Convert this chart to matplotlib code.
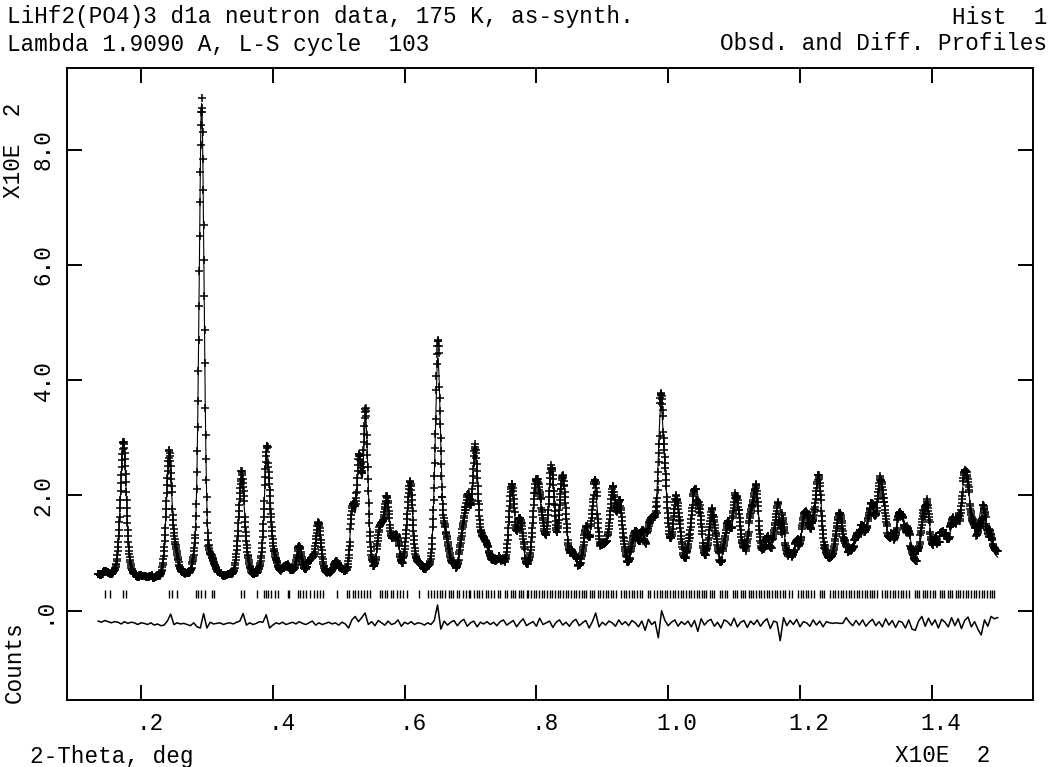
import numpy as np
import matplotlib
matplotlib.use("Agg")
import matplotlib.pyplot as plt
from matplotlib.transforms import blended_transform_factory, offset_copy

# --- peak list (2-theta deg, height above bkg x10E2, fwhm deg)
peak_pos = [14.6, 17.3, 17.8, 24.25, 25.2, 28.4, 29.2, 30.8, 35.2, 35.8,
            39.1, 39.8, 40.6, 42.1, 44.0, 45.6, 46.9, 49.7, 52.1, 53.1,
            54.1, 56.3, 57.3, 58.4, 59.0, 60.8, 62.3, 65.05, 66.3, 68.8,
            69.6, 70.75, 71.9, 72.7, 74.1, 76.25, 77.5, 79.95, 80.8, 82.3,
            84.0, 85.3, 87.6, 88.9, 90.4, 91.6, 92.7, 95.0, 96.2, 97.5,
            98.86, 99.6, 101.3, 103.8, 104.6, 106.75, 109.1, 110.4, 112.4, 113.3,
            115.2, 116.7, 117.5, 119.5, 120.75, 121.6, 122.8, 126.0, 128.0, 129.1,
            130.0, 130.9, 132.3, 133.7, 135.0, 135.8, 136.6, 139.1, 140.9, 142.0,
            143.4, 145.0, 146.0, 147.6, 148.6]
peak_amp = [0.05, 2.25, 0.15, 2.0, 0.35, 0.15, 8.2, 0.2, 1.5, 0.4,
            2.0, 0.4, 0.12, 0.2, 0.48, 0.22, 0.9, 0.22, 1.05, 1.85,
            2.6, 0.7, 1.2, 0.45, 0.3, 1.55, 0.1, 3.7, 0.55, 0.5,
            1.2, 2.1, 0.45, 0.25, 0.2, 1.4, 0.8, 1.45, 0.75, 1.75,
            1.6, 0.2, 0.6, 1.3, 0.35, 1.3, 1.0, 0.55, 0.5, 0.75,
            2.5, 0.9, 1.15, 0.95, 0.9, 0.9, 0.65, 1.2, 0.55, 1.2,
            0.35, 0.95, 0.3, 0.25, 0.75, 0.35, 1.45, 0.85, 0.2, 0.45,
            0.3, 0.8, 1.4, 0.3, 0.6, 0.4, 0.25, 1.0, 0.3, 0.35,
            0.6, 1.35, 0.5, 0.8, 0.3]
peak_fwhm = [1.0, 1.05, 1.0, 1.0, 1.0, 0.9, 0.9, 1.0, 1.0, 1.0,
             1.0, 1.0, 1.0, 1.0, 1.0, 1.0, 1.0, 1.1, 0.9, 0.8,
             0.85, 1.0, 1.0, 1.0, 1.0, 1.05, 1.1, 1.0, 1.0, 1.0,
             0.9, 0.95, 1.0, 1.0, 1.1, 1.0, 1.0, 1.0, 1.0, 1.0,
             1.05, 1.1, 1.05, 1.05, 1.05, 1.0, 1.0, 1.1, 1.1, 1.1,
             1.0, 1.0, 1.1, 1.1, 1.1, 1.1, 1.1, 1.1, 1.1, 1.1,
             1.15, 1.15, 1.15, 1.15, 1.15, 1.15, 1.15, 1.2, 1.2, 1.2,
             1.2, 1.2, 1.2, 1.2, 1.25, 1.25, 1.25, 1.25, 1.25, 1.25,
             1.3, 1.3, 1.3, 1.3, 1.3]

bkg_tth = [13, 25, 40, 50, 60, 70, 80, 90, 100, 110, 120, 130, 140, 150]
bkg_val = [0.57, 0.56, 0.57, 0.60, 0.62, 0.65, 0.70, 0.72, 0.75, 0.77, 0.80, 0.82, 0.85, 0.88]

# obs - calc, every 0.5 deg from 13.5 to 150
diff_start = 13.5
diff_step = 0.5
diff = [
    0.04, 0.02, 0.05, 0.03, 0.01, 0.03, 0.02, -0.01, 0.03, 0.00, 0.02, 0.01, -0.02, 0.01, 0.00, -0.02, 0.01, -0.03, -0.01, -0.04,
    -0.03, 0.04, 0.16, -0.02, 0.01, -0.01, 0.00, -0.02, -0.04, 0.01, -0.06, -0.08, 0.17, -0.08, 0.02, -0.01, 0.00, 0.01, -0.02, 0.00,
    0.01, -0.01, 0.02, 0.04, 0.17, -0.03, 0.01, -0.02, 0.00, 0.03, 0.02, 0.15, -0.08, -0.03, 0.01, -0.01, 0.02, -0.02, 0.00, 0.02,
    -0.01, 0.03, 0.00, -0.02, 0.01, 0.04, -0.03, 0.01, -0.02, 0.00, 0.02, -0.01, 0.01, -0.03, 0.02, -0.01, -0.08, 0.06, 0.12, 0.03,
    0.10, 0.18, -0.02, 0.03, -0.04, 0.05, 0.01, -0.03, 0.04, -0.02, 0.00, 0.06, -0.05, 0.02, -0.01, 0.03, -0.02, 0.01, 0.00, -0.03,
    0.01, -0.02, 0.05, 0.32, -0.10, 0.04, -0.03, 0.02, 0.05, -0.04, 0.03, 0.07, -0.05, 0.01, 0.04, -0.06, 0.02, -0.01, 0.03, -0.02,
    0.02, -0.04, 0.03, 0.06, -0.03, 0.01, 0.05, -0.06, 0.02, 0.08, -0.04, 0.00, 0.03, -0.05, 0.09, -0.02, 0.01, 0.04, -0.07, 0.02,
    0.06, -0.03, 0.02, -0.05, 0.03, 0.07, -0.04, 0.01, 0.05, -0.08, 0.03, 0.18, -0.06, 0.02, -0.03, 0.04, 0.01, -0.05, 0.06, -0.02,
    0.03, -0.04, 0.05, 0.01, -0.06, 0.04, -0.12, 0.07, -0.02, 0.03, -0.25, 0.22, 0.05, -0.04, 0.02, 0.06, -0.05, 0.03, -0.02, 0.04,
    -0.06, 0.05, -0.14, 0.08, -0.03, 0.04, 0.07, -0.05, 0.02, -0.08, 0.06, 0.03, -0.04, 0.09, -0.06, 0.02, 0.05, -0.07, 0.04, -0.02,
    0.06, -0.05, 0.03, 0.08, -0.09, 0.04, 0.02, -0.30, 0.10, -0.04, 0.05, -0.02, 0.07, -0.06, 0.03, 0.01, -0.05, 0.06, -0.03, 0.04,
    -0.06, 0.03, 0.01, 0.00, 0.01, 0.00, 0.00, 0.10, 0.02, -0.04, 0.05, -0.03, 0.06, -0.05, 0.02, 0.07, -0.04, 0.03, -0.06, 0.08,
    -0.03, 0.05, -0.07, 0.04, 0.02, -0.08, 0.06, -0.10, -0.12, 0.04, 0.12, -0.05, 0.09, -0.03, 0.06, -0.08, 0.07, 0.02, -0.06, 0.10,
    -0.04, 0.08, -0.09, 0.05, 0.11, -0.06, 0.03, -0.10, -0.20, 0.06, -0.05, 0.12, 0.08, 0.10]
diff_offset = -0.22

# reflection positions (deg)
refl = [14.5, 15.3, 17.3, 17.7, 24.25, 24.65, 25.5, 28.35, 28.7, 29.1, 29.7, 30.7, 31.1,
        35.1, 35.6, 37.6, 38.6, 39.0, 39.3, 39.8, 40.3, 40.8, 42.35, 42.5,
        43.9, 44.2, 44.6, 45.1, 45.6, 46.2, 46.7, 47.2, 47.6, 49.7,
        51.2, 51.6, 52.1, 52.5, 52.9, 53.4, 53.8, 54.3, 54.7, 56.2, 56.5, 57.0, 57.4, 57.9,
        58.3, 58.8, 59.3, 59.7, 60.3, 62.2,
        63.6, 64.0, 64.4, 64.9, 65.3, 65.7, 66.2, 66.7, 67.1, 67.4, 67.9, 68.3, 68.8, 69.3,
        69.7, 70.0, 70.5, 71.0, 71.3, 71.8, 72.3, 72.6, 73.1, 73.5, 74.2, 74.5,
        75.2, 75.6, 76.1, 76.4, 76.8, 77.3, 77.6, 78.0, 78.5, 78.8, 79.2, 79.7, 80.0, 80.4,
        80.9, 81.2, 81.6, 82.1, 82.4, 82.8, 83.3, 83.6, 84.0, 84.5, 84.8, 85.2, 85.7, 86.0,
        86.4, 86.9, 87.2, 87.6, 88.1, 88.4, 88.8, 89.3, 89.6,
        90.1, 90.5, 90.9, 91.3, 91.7, 92.1, 92.9, 93.3, 93.6, 94.1, 94.5, 94.8, 95.3, 95.7,
        96.1, 96.9, 97.3, 97.9, 98.3, 98.7, 99.1, 99.5, 99.8, 100.3, 100.7, 101.0, 101.5,
        101.9, 102.2, 102.7, 103.1, 103.4, 103.9, 104.3, 104.6, 105.1, 105.5, 105.8, 106.3,
        106.7, 107.0, 107.8, 108.2, 108.6, 109.0, 109.8, 110.2, 110.5, 111.0, 111.4, 111.7,
        112.2, 112.6, 112.9, 113.4, 113.8, 114.1, 114.6, 115.0, 115.3, 115.8, 116.2, 116.5,
        117.0, 117.4, 117.7, 118.4, 118.8, 119.7, 120.1, 120.5, 120.9, 121.2, 121.7, 122.1,
        123.0, 123.4, 123.7, 124.6, 125.0, 125.3, 125.8, 126.2, 126.5, 127.0, 127.4, 127.7,
        128.2, 128.6, 128.9, 129.4, 129.8, 130.1, 130.6, 131.0, 131.3, 131.7, 132.5, 132.9,
        133.2, 133.7, 134.1, 134.4, 134.9, 135.3, 135.6, 136.1, 136.5, 137.4, 137.8, 138.1,
        138.6, 139.0, 139.3, 139.8, 140.2, 140.5, 141.2, 141.6, 141.9, 142.4, 142.8, 143.1,
        143.6, 144.0, 144.3, 144.8, 145.2, 145.5, 146.0, 146.4, 146.7, 147.2, 147.6, 147.9,
        148.4, 148.8, 149.1, 149.4]

xticks = [0.2, 0.4, 0.6, 0.8, 1.0, 1.2, 1.4]
xticklabels = [".2", ".4", ".6", ".8", "1.0", "1.2", "1.4"]
yticks = [0, 2, 4, 6, 8]
yticklabels = [".0", "2.0", "4.0", "6.0", "8.0"]

# --- profile
tth = np.arange(13.5, 150.0001, 0.05)
bkg = np.interp(tth, bkg_tth, bkg_val)
calc = bkg.copy()
eta = 0.25
for p, a, w in zip(peak_pos, peak_amp, peak_fwhm):
    u = (tth - p) / w
    calc += a * (eta / (1 + 4 * u ** 2) + (1 - eta) * np.exp(-4 * np.log(2) * u ** 2))

diff = np.array(diff)
diff_tth = diff_start + diff_step * np.arange(len(diff))
idx = np.clip(np.rint((tth - diff_start) / diff_step).astype(int), 0, len(diff) - 1)
obs = calc + diff[idx]

# --- figure
plt.rcParams["font.family"] = ["Liberation Mono", "DejaVu Sans Mono"]
fs = 16.3

fig = plt.figure(figsize=(10.5, 7.67), dpi=100)
ax = fig.add_axes([67 / 1050, 1 - 700 / 767, 966 / 1050, 632 / 767])

ax.plot(tth / 100, obs, linestyle="none", marker="+", ms=6, mew=1.1, color="black")
ax.plot(tth / 100, calc, color="black", lw=0.8)
ax.plot(diff_tth / 100, diff + diff_offset, color="black", lw=1.1)
ax.vlines(np.array(refl) / 100, 0.22, 0.36, color="black", lw=1.0)

ax.set_xlim(0.0877, 1.5536)
ax.set_ylim(-1.55, 9.42)

for s in ax.spines.values():
    s.set_linewidth(1.4)
ax.set_xticks(xticks)
ax.set_yticks(yticks)
ax.tick_params(direction="in", length=11, width=1.4, top=True, right=True,
               labelbottom=False, labelleft=False)

# tick labels, GSAS style (x labels a bit right of tick)
tx = offset_copy(blended_transform_factory(ax.transData, fig.transFigure), fig=fig, x=9, y=0, units="dots")
for v, s in zip(xticks, xticklabels):
    ax.text(v, 1 - 723 / 767, s, transform=tx, ha="center", va="center", fontsize=fs)
ty = blended_transform_factory(fig.transFigure, ax.transData)
for v, s in zip(yticks, yticklabels):
    ax.text(43 / 1050, v, s, transform=ty, ha="center", va="center", rotation=90, fontsize=fs)

fig.text(14 / 1050, 1 - 150 / 767, "X10E  2", rotation=90, ha="center", va="center", fontsize=fs)
fig.text(14 / 1050, 1 - 662 / 767, "Counts", rotation=90, ha="center", va="center", fontsize=fs)
fig.text(30 / 1050, 1 - 756 / 767, "2-Theta, deg", ha="left", va="center", fontsize=fs)
fig.text(990 / 1050, 1 - 756 / 767, "X10E  2", ha="right", va="center", fontsize=fs)

fig.text(7 / 1050, 1 - 17 / 767, "LiHf2(PO4)3 d1a neutron data, 175 K, as-synth.", ha="left", va="center", fontsize=fs)
fig.text(1047 / 1050, 1 - 17 / 767, "Hist  1", ha="right", va="center", fontsize=fs)
fig.text(7 / 1050, 1 - 44 / 767, "Lambda 1.9090 A, L-S cycle  103", ha="left", va="center", fontsize=fs)
fig.text(1047 / 1050, 1 - 44 / 767, "Obsd. and Diff. Profiles", ha="right", va="center", fontsize=fs)

fig.savefig("out.png", dpi=100)
